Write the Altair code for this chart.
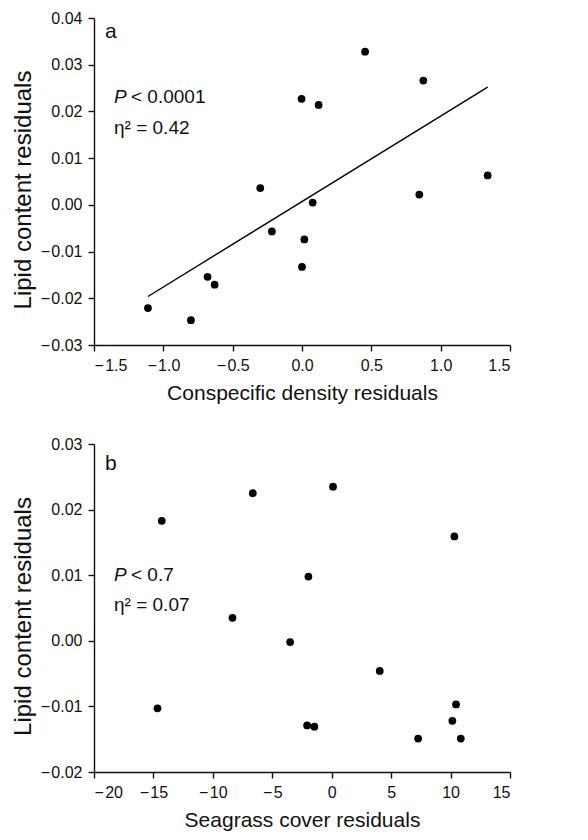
import altair as alt
import pandas as pd

# ---- data ----
a_x = [0.455, 0.875, -0.003, 0.12, 1.339, -0.301, 0.846, 0.077, -0.217, 0.017, 0.0, -0.681, -0.63, -1.111, -0.801]
a_y = [0.0328, 0.0266, 0.0227, 0.0214, 0.0063, 0.0036, 0.0022, 0.0005, -0.0057, -0.0074, -0.0133, -0.0154, -0.0171, -0.0221, -0.0247]

b_x = [-14.3, -6.64, 0.11, 10.32, -1.96, -8.35, -3.5, 4.04, -14.66, 10.46, 10.15, -2.07, -1.46, 7.27, 10.86]
b_y = [0.0183, 0.0225, 0.0235, 0.0159, 0.0098, 0.0035, -0.0002, -0.0046, -0.0103, -0.0097, -0.0122, -0.0129, -0.0131, -0.0149, -0.0149]

a_xticks = [-1.5, -1.0, -0.5, 0.0, 0.5, 1.0, 1.5]
a_yticks = [-0.03, -0.02, -0.01, 0.0, 0.01, 0.02, 0.03, 0.04]
b_xticks = [-20, -15, -10, -5, 0, 5, 10, 15]
b_yticks = [-0.02, -0.01, 0.0, 0.01, 0.02, 0.03]

a_labels = ["a", "P", "< 0.0001", "η² = 0.42"]
b_labels = ["b", "P", "< 0.7", "η² = 0.07"]

FONT = "Liberation Sans"
W = 416
MINUS = "replace(replace(datum.label, '-', '\u2212'), '\u2212', '\u2212\u200a')"

df_a = pd.DataFrame({"x": a_x, "y": a_y})
df_b = pd.DataFrame({"x": b_x, "y": b_y})


def annotations(labels, ys):
    one = alt.Data(values=[{"k": 0}])
    marks = []
    marks.append(alt.Chart(one).mark_text(font=FONT, fontSize=21, align="left", baseline="middle", color="#111")
                 .encode(x=alt.value(11), y=alt.value(ys[0]), text=alt.value(labels[0])))
    marks.append(alt.Chart(one).mark_text(font=FONT, fontSize=19, fontStyle="italic", align="left", baseline="middle", color="#111")
                 .encode(x=alt.value(20), y=alt.value(ys[1]), text=alt.value(labels[1])))
    marks.append(alt.Chart(one).mark_text(font=FONT, fontSize=19, align="left", baseline="middle", color="#111")
                 .encode(x=alt.value(37), y=alt.value(ys[1]), text=alt.value(labels[2])))
    marks.append(alt.Chart(one).mark_text(font=FONT, fontSize=19, align="left", baseline="middle", color="#111")
                 .encode(x=alt.value(20), y=alt.value(ys[2]), text=alt.value(labels[3])))
    return marks


def panel(df, H, xdom, xticks, xfmt, ydom, yticks, xtitle, labels, ys, fit):
    xs = alt.X("x:Q", scale=alt.Scale(domain=xdom, nice=False, zero=False),
               axis=alt.Axis(values=xticks, format=xfmt, title=xtitle, labelExpr=MINUS))
    yq = alt.Y("y:Q", scale=alt.Scale(domain=ydom, nice=False, zero=False),
               axis=alt.Axis(values=yticks, format=".2f", title="Lipid content residuals",
                             labelExpr=MINUS, titleY=H / 2 + 8, titleFontSize=24))
    pts = alt.Chart(df).mark_circle(size=60, color="black", opacity=1).encode(x=xs, y=yq)
    layers = [pts]
    if fit:
        line = alt.Chart(df).transform_regression("x", "y").mark_line(color="black", strokeWidth=1.4).encode(x=xs, y=yq)
        layers.append(line)
    layers += annotations(labels, ys)
    return alt.layer(*layers).properties(width=W, height=H)


pa = panel(df_a, 327, [-1.5, 1.5], a_xticks, ".1f", [-0.03, 0.04], a_yticks,
           "Conspecific density residuals", a_labels, [14, 79, 110], True)
pb = panel(df_b, 328, [-20, 15], b_xticks, "d", [-0.02, 0.03], b_yticks,
           "Seagrass cover residuals", b_labels, [20, 131, 161], False)

chart = alt.vconcat(pa, pb, spacing=33).properties(
    padding={"left": 3, "top": 2, "right": 5, "bottom": 5}
).configure_view(stroke=None).configure_axis(
    grid=False,
    domainColor="#111", domainWidth=1.4,
    tickColor="#111", tickWidth=1.4, tickSize=6,
    labelFont=FONT, labelFontSize=16, labelColor="#111", labelPadding=6,
    titleFont=FONT, titleFontSize=21, titleFontWeight="normal", titleColor="#111",
).configure_axisX(titlePadding=9).configure_axisY(titlePadding=5)

chart.save("out.html", embed_options={"renderer": "svg", "actions": False})
